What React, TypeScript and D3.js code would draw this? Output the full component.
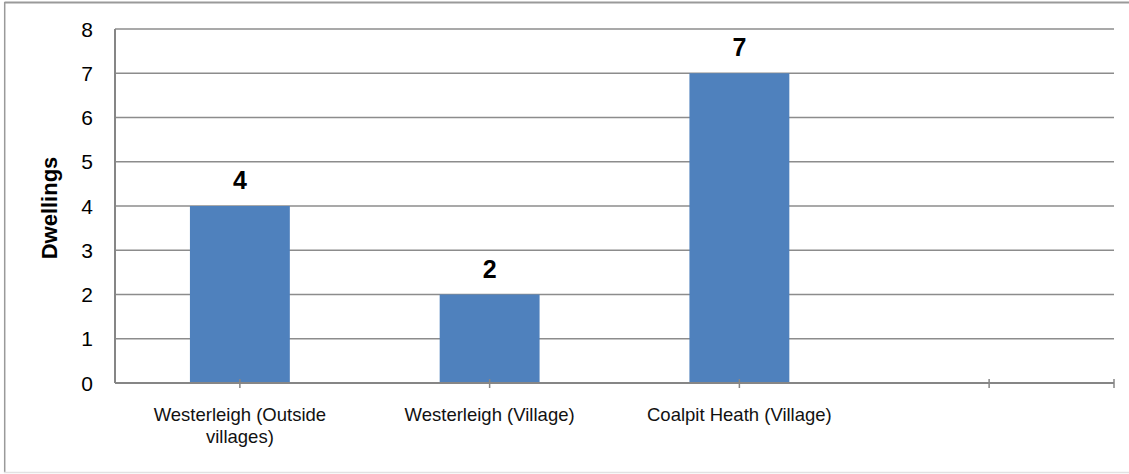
import React from "react";
import * as d3 from "d3";

const categories: string[] = [
  "Westerleigh (Outside\nvillages)",
  "Westerleigh (Village)",
  "Coalpit Heath (Village)",
  "",
];
const dwellings: (number | null)[] = [4, 2, 7, null];
const yTicks: number[] = [0, 1, 2, 3, 4, 5, 6, 7, 8];
const yTitle = "Dwellings";

const W = 1129;
const H = 474;
const plot = { left: 115, right: 1114, top: 29, bottom: 383 };

export default function App() {
  const x = d3
    .scaleBand<string>()
    .domain(categories.map((_, i) => String(i)))
    .range([plot.left, plot.right])
    .paddingInner(0)
    .paddingOuter(0);
  const y = d3.scaleLinear().domain([0, 8]).range([plot.bottom, plot.top]);
  const bw = x.bandwidth() * 0.4;
  const tickXs = [
    ...categories.map((_, i) => (x(String(i)) as number) + x.bandwidth() / 2),
    plot.right,
  ];

  return (
    <svg
      width={W}
      height={H}
      style={{ position: "absolute", left: 0, top: 0, fontFamily: "Arial, 'Liberation Sans', sans-serif" }}
    >
      <rect x={0} y={0} width={W} height={H} fill="#fff" />
      {/* outer chart border */}
      <line x1={4.5} x2={W} y1={2.5} y2={2.5} stroke="#9a9a9a" strokeWidth={2} />
      <line x1={4.7} x2={4.7} y1={2} y2={473} stroke="#9a9a9a" strokeWidth={1.5} />
      <line x1={4} x2={W} y1={472.5} y2={472.5} stroke="#e2e2e2" strokeWidth={1.5} />

      {/* gridlines */}
      {yTicks.filter((t) => t > 0).map((t) => (
        <line key={"g" + t} x1={plot.left} x2={plot.right} y1={y(t)} y2={y(t)} stroke="#8c8c8c" strokeWidth={1.3} />
      ))}

      {/* bars */}
      {dwellings.map((v, i) =>
        v == null ? null : (
          <rect
            key={"b" + i}
            x={(x(String(i)) as number) + (x.bandwidth() - bw) / 2}
            y={y(v)}
            width={bw}
            height={y(0) - y(v)}
            fill="#4F81BD"
          />
        )
      )}

      {/* axes */}
      <line x1={plot.left} x2={plot.left} y1={plot.top} y2={plot.bottom} stroke="#868686" strokeWidth={2} />
      <line x1={plot.left} x2={plot.right} y1={plot.bottom} y2={plot.bottom} stroke="#868686" strokeWidth={2} />
      {tickXs.map((tx, i) => (
        <line key={"t" + i} x1={tx} x2={tx} y1={plot.bottom - 4} y2={plot.bottom + 5} stroke="#868686" strokeWidth={1.5} />
      ))}

      {/* y tick labels */}
      {yTicks.map((t) => (
        <text key={"yl" + t} x={93} y={y(t)} dy="0.36em" textAnchor="end" fontSize={21} fill="#000">
          {t}
        </text>
      ))}

      {/* data labels */}
      {dwellings.map((v, i) =>
        v == null ? null : (
          <text
            key={"dl" + i}
            x={(x(String(i)) as number) + x.bandwidth() / 2}
            y={y(v) - 17}
            textAnchor="middle"
            fontSize={25}
            fontWeight="bold"
            fill="#000"
          >
            {v}
          </text>
        )
      )}

      {/* category labels */}
      {categories.map((c, i) => {
        const cx = (x(String(i)) as number) + x.bandwidth() / 2;
        return c.split("\n").map((line, j) => (
          <text
            key={"c" + i + "-" + j}
            x={cx}
            y={421 + j * 22}
            textAnchor="middle"
            fontSize={18.5}
            fill="#111"
          >
            {line}
          </text>
        ));
      })}

      {/* y axis title */}
      <text
        transform={`translate(57,${(plot.top + plot.bottom) / 2 + 2}) rotate(-90)`}
        textAnchor="middle"
        fontSize={22}
        fontWeight="bold"
        fill="#000"
      >
        {yTitle}
      </text>
    </svg>
  );
}
